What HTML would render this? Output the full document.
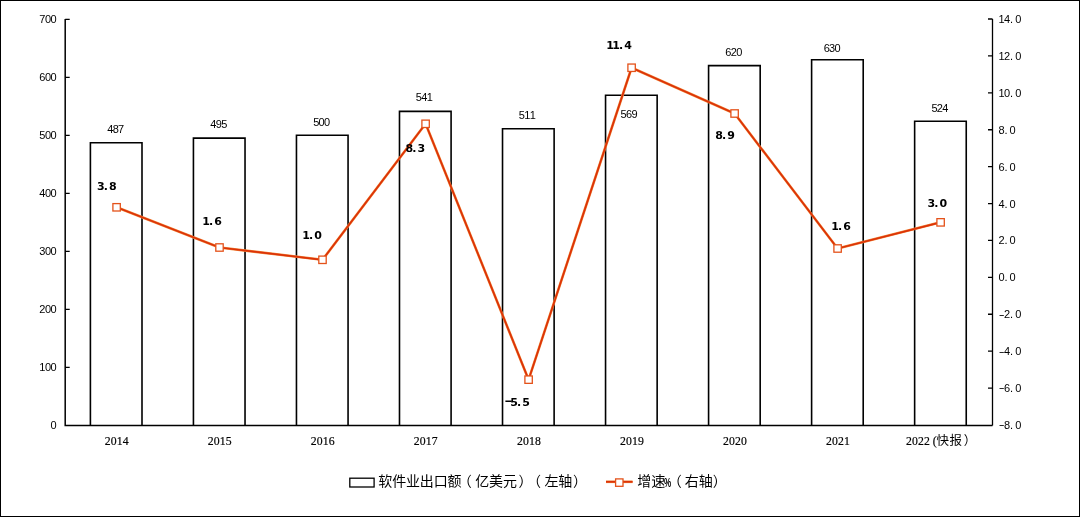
<!DOCTYPE html><html><head><meta charset="utf-8"><style>html,body{margin:0;padding:0;background:#fff}svg{display:block}.ax{font-family:"Liberation Sans","Noto Sans CJK SC",sans-serif;font-size:11px;fill:#000}.rx{font-family:"Liberation Sans","Noto Sans CJK SC",sans-serif;font-size:11px;fill:#000}.xl{font-family:"Liberation Serif","Noto Sans CJK SC",serif;font-size:13.5px;fill:#000;stroke:#000;stroke-width:0.2px}.xc{font-family:"Liberation Sans","Noto Sans CJK SC",sans-serif;font-size:12.5px;fill:#000}.bl{font-family:"Liberation Sans","Noto Sans CJK SC",sans-serif;font-size:11px;fill:#000}.gl{font-family:"DejaVu Sans","Noto Sans CJK SC",sans-serif;font-size:11px;font-weight:bold;fill:#000}.lg{font-family:"Liberation Sans","Noto Sans CJK SC",sans-serif;font-size:14px;fill:#000}.lp{font-family:"Liberation Sans","Noto Sans CJK SC",sans-serif;font-size:13px;fill:#000}</style></head><body>
<svg width="1080" height="517" viewBox="0 0 1080 517">
<rect x="0.5" y="0.5" width="1079" height="516" fill="#fff" stroke="#000" stroke-width="1"/>
<rect x="90.40" y="142.74" width="51.6" height="282.26" fill="#fff"/>
<path d="M90.40 425.6V142.74H142.00V425.6" fill="none" stroke="#000" stroke-width="1.6"/>
<rect x="193.43" y="138.10" width="51.6" height="286.90" fill="#fff"/>
<path d="M193.43 425.6V138.10H245.03V425.6" fill="none" stroke="#000" stroke-width="1.6"/>
<rect x="296.46" y="135.20" width="51.6" height="289.80" fill="#fff"/>
<path d="M296.46 425.6V135.20H348.06V425.6" fill="none" stroke="#000" stroke-width="1.6"/>
<rect x="399.49" y="111.42" width="51.6" height="313.58" fill="#fff"/>
<path d="M399.49 425.6V111.42H451.09V425.6" fill="none" stroke="#000" stroke-width="1.6"/>
<rect x="502.52" y="128.82" width="51.6" height="296.18" fill="#fff"/>
<path d="M502.52 425.6V128.82H554.12V425.6" fill="none" stroke="#000" stroke-width="1.6"/>
<rect x="605.55" y="95.18" width="51.6" height="329.82" fill="#fff"/>
<path d="M605.55 425.6V95.18H657.15V425.6" fill="none" stroke="#000" stroke-width="1.6"/>
<rect x="708.58" y="65.60" width="51.6" height="359.40" fill="#fff"/>
<path d="M708.58 425.6V65.60H760.18V425.6" fill="none" stroke="#000" stroke-width="1.6"/>
<rect x="811.61" y="59.80" width="51.6" height="365.20" fill="#fff"/>
<path d="M811.61 425.6V59.80H863.21V425.6" fill="none" stroke="#000" stroke-width="1.6"/>
<rect x="914.64" y="121.28" width="51.6" height="303.72" fill="#fff"/>
<path d="M914.64 425.6V121.28H966.24V425.6" fill="none" stroke="#000" stroke-width="1.6"/>
<path d="M65.2 19.0V425.6H992.5" fill="none" stroke="#000" stroke-width="1.5"/>
<path d="M992.5 425.6V19.0" fill="none" stroke="#000" stroke-width="1.3"/>
<path d="M65.2 367.40h4.5M65.2 309.40h4.5M65.2 251.40h4.5M65.2 193.40h4.5M65.2 135.40h4.5M65.2 77.40h4.5M65.2 19.40h4.5" stroke="#000" stroke-width="1.3"/>
<path d="M992.5 388.09h-4.5M992.5 351.18h-4.5M992.5 314.27h-4.5M992.5 277.36h-4.5M992.5 240.45h-4.5M992.5 203.55h-4.5M992.5 166.64h-4.5M992.5 129.73h-4.5M992.5 92.82h-4.5M992.5 55.91h-4.5M992.5 19.00h-4.5" stroke="#000" stroke-width="1.3"/>
<text class="ax" x="53.60" y="429.00" text-anchor="middle">0</text>
<text class="ax" x="42.40 48.00 53.60" y="371.00" text-anchor="middle">100</text>
<text class="ax" x="42.40 48.00 53.60" y="313.00" text-anchor="middle">200</text>
<text class="ax" x="42.40 48.00 53.60" y="255.00" text-anchor="middle">300</text>
<text class="ax" x="42.40 48.00 53.60" y="197.00" text-anchor="middle">400</text>
<text class="ax" x="42.40 48.00 53.60" y="139.00" text-anchor="middle">500</text>
<text class="ax" x="42.40 48.00 53.60" y="81.00" text-anchor="middle">600</text>
<text class="ax" x="42.40 48.00 53.60" y="23.00" text-anchor="middle">700</text>
<text class="rx" x="1001.57" y="428.40" text-anchor="middle" transform="translate(1001.57 0) scale(1.6 1) translate(-1001.57 0)">-</text><text class="rx" x="1007.12 1011.50 1018.22" y="429.00" text-anchor="middle">8.0</text>
<text class="rx" x="1001.57" y="391.49" text-anchor="middle" transform="translate(1001.57 0) scale(1.6 1) translate(-1001.57 0)">-</text><text class="rx" x="1007.12 1011.50 1018.22" y="392.09" text-anchor="middle">6.0</text>
<text class="rx" x="1001.57" y="354.58" text-anchor="middle" transform="translate(1001.57 0) scale(1.6 1) translate(-1001.57 0)">-</text><text class="rx" x="1007.12 1011.50 1018.22" y="355.18" text-anchor="middle">4.0</text>
<text class="rx" x="1001.57" y="317.67" text-anchor="middle" transform="translate(1001.57 0) scale(1.6 1) translate(-1001.57 0)">-</text><text class="rx" x="1007.12 1011.50 1018.22" y="318.27" text-anchor="middle">2.0</text>
<text class="rx" x="1001.57 1005.95 1012.67" y="281.36" text-anchor="middle">0.0</text>
<text class="rx" x="1001.57 1005.95 1012.67" y="244.45" text-anchor="middle">2.0</text>
<text class="rx" x="1001.57 1005.95 1012.67" y="207.55" text-anchor="middle">4.0</text>
<text class="rx" x="1001.57 1005.95 1012.67" y="170.64" text-anchor="middle">6.0</text>
<text class="rx" x="1001.57 1005.95 1012.67" y="133.73" text-anchor="middle">8.0</text>
<text class="rx" x="1001.57 1007.12 1011.50 1018.22" y="96.82" text-anchor="middle">10.0</text>
<text class="rx" x="1001.57 1007.12 1011.50 1018.22" y="59.91" text-anchor="middle">12.0</text>
<text class="rx" x="1001.57 1007.12 1011.50 1018.22" y="23.00" text-anchor="middle">14.0</text>
<polyline points="116.60,207.30 219.50,247.50 322.50,259.80 425.60,123.80 528.60,379.65 631.60,67.75 734.60,113.50 837.60,248.50 940.60,222.35" fill="none" stroke="#F0883A" stroke-width="2.6" stroke-linejoin="round"/>
<polyline points="116.60,207.30 219.50,247.50 322.50,259.80 425.60,123.80 528.60,379.65 631.60,67.75 734.60,113.50 837.60,248.50 940.60,222.35" fill="none" stroke="#DC3208" stroke-width="1.7" stroke-linejoin="round"/>
<rect x="112.90" y="203.60" width="7.4" height="7.4" fill="#fff" stroke="#E4521A" stroke-width="1.3"/>
<rect x="215.80" y="243.80" width="7.4" height="7.4" fill="#fff" stroke="#E4521A" stroke-width="1.3"/>
<rect x="318.80" y="256.10" width="7.4" height="7.4" fill="#fff" stroke="#E4521A" stroke-width="1.3"/>
<rect x="421.90" y="120.10" width="7.4" height="7.4" fill="#fff" stroke="#E4521A" stroke-width="1.3"/>
<rect x="524.90" y="375.95" width="7.4" height="7.4" fill="#fff" stroke="#E4521A" stroke-width="1.3"/>
<rect x="627.90" y="64.05" width="7.4" height="7.4" fill="#fff" stroke="#E4521A" stroke-width="1.3"/>
<rect x="730.90" y="109.80" width="7.4" height="7.4" fill="#fff" stroke="#E4521A" stroke-width="1.3"/>
<rect x="833.90" y="244.80" width="7.4" height="7.4" fill="#fff" stroke="#E4521A" stroke-width="1.3"/>
<rect x="936.90" y="218.65" width="7.4" height="7.4" fill="#fff" stroke="#E4521A" stroke-width="1.3"/>
<text class="bl" x="110.25 115.70 121.15" y="132.70" text-anchor="middle">487</text>
<text class="bl" x="213.40 218.85 224.30" y="128.00" text-anchor="middle">495</text>
<text class="bl" x="316.20 321.65 327.10" y="125.50" text-anchor="middle">500</text>
<text class="bl" x="418.85 424.30 429.75" y="101.10" text-anchor="middle">541</text>
<text class="bl" x="521.90 527.35 532.80" y="118.80" text-anchor="middle">511</text>
<text class="bl" x="623.55 629.00 634.45" y="117.60" text-anchor="middle">569</text>
<text class="bl" x="728.35 733.80 739.25" y="55.50" text-anchor="middle">620</text>
<text class="bl" x="826.70 832.15 837.60" y="51.60" text-anchor="middle">630</text>
<text class="bl" x="934.45 939.90 945.35" y="111.50" text-anchor="middle">524</text>
<text class="gl" x="100.80 105.80 112.80" y="190.40" text-anchor="middle">3.8</text>
<text class="gl" x="206.00 211.00 218.00" y="225.20" text-anchor="middle">1.6</text>
<text class="gl" x="306.10 311.10 318.10" y="239.20" text-anchor="middle">1.0</text>
<text class="gl" x="409.30 414.30 421.30" y="151.90" text-anchor="middle">8.3</text>
<text class="gl" x="508.50" y="404.30" text-anchor="middle" font-weight="normal" transform="translate(508.50 0) scale(1.9 1) translate(-508.50 0)">-</text><text class="gl" x="514.00 519.00 526.00" y="405.90" text-anchor="middle">5.5</text>
<text class="gl" x="610.00 616.00 621.00 628.00" y="49.20" text-anchor="middle">11.4</text>
<text class="gl" x="719.10 724.10 731.10" y="138.80" text-anchor="middle">8.9</text>
<text class="gl" x="835.10 840.10 847.10" y="229.70" text-anchor="middle">1.6</text>
<text class="gl" x="931.30 936.30 943.30" y="207.10" text-anchor="middle">3.0</text>
<g transform="translate(116.72 0) scale(0.87 1) translate(-116.72 0)"><text class="xl" x="106.38 113.27 120.17 127.06" y="444.60" text-anchor="middle">2014</text></g>
<g transform="translate(219.75 0) scale(0.87 1) translate(-219.75 0)"><text class="xl" x="209.41 216.30 223.20 230.09" y="444.60" text-anchor="middle">2015</text></g>
<g transform="translate(322.78 0) scale(0.87 1) translate(-322.78 0)"><text class="xl" x="312.44 319.33 326.23 333.12" y="444.60" text-anchor="middle">2016</text></g>
<g transform="translate(425.81 0) scale(0.87 1) translate(-425.81 0)"><text class="xl" x="415.47 422.36 429.26 436.15" y="444.60" text-anchor="middle">2017</text></g>
<g transform="translate(528.84 0) scale(0.87 1) translate(-528.84 0)"><text class="xl" x="518.50 525.39 532.29 539.18" y="444.60" text-anchor="middle">2018</text></g>
<g transform="translate(631.87 0) scale(0.87 1) translate(-631.87 0)"><text class="xl" x="621.53 628.42 635.32 642.21" y="444.60" text-anchor="middle">2019</text></g>
<g transform="translate(734.90 0) scale(0.87 1) translate(-734.90 0)"><text class="xl" x="724.56 731.45 738.35 745.24" y="444.60" text-anchor="middle">2020</text></g>
<g transform="translate(837.93 0) scale(0.87 1) translate(-837.93 0)"><text class="xl" x="827.59 834.48 841.38 848.27" y="444.60" text-anchor="middle">2021</text></g>
<g transform="translate(921.85 0) scale(0.87 1) translate(-921.85 0)"><text class="xl" x="907.08 913.98 920.87 927.77 936.62" y="444.60" text-anchor="middle">2022(</text></g>
<text class="xc" x="936.4 949.6 963.8" y="445.3">快报）</text>
<rect x="349.8" y="478.2" width="24.3" height="8.8" fill="#fff" stroke="#000" stroke-width="1.3"/>
<text class="lg" x="378.30 392.15 406.00 419.85 433.70 447.55 457.70 475.25 489.10 502.95 518.50 526.95 544.50 558.35 572.90" y="486.3">软件业出口额（亿美元）（左轴）</text>
<path d="M606 481.8H632.6" stroke="#F0883A" stroke-width="2.6"/>
<path d="M606 481.8H632.6" stroke="#DC3208" stroke-width="1.7"/>
<rect x="615.6" y="478.9" width="7.4" height="7.4" fill="#fff" stroke="#E4521A" stroke-width="1.3"/>
<text class="lg" x="637.3 651.15" y="486.3">增速</text>
<text class="lp" x="664.0" y="486.8" font-weight="bold" transform="translate(664.0 0) scale(0.62 1) translate(-664.0 0)">%</text>
<text class="lg" x="667.80 684.85 698.70 712.75" y="486.3">（右轴）</text>
</svg></body></html>
